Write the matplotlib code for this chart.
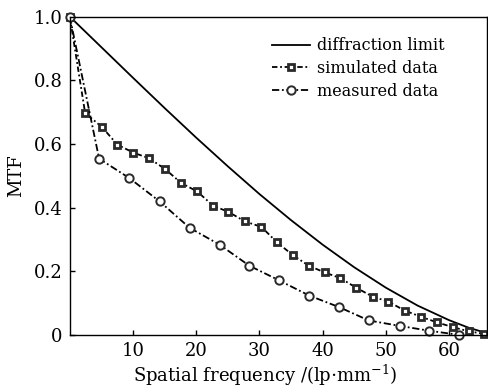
import matplotlib
matplotlib.use('Agg')
import matplotlib.pyplot as plt

# diffraction limit
freq_dl = [0, 5, 10, 15, 20, 25, 30, 35, 40, 45, 50, 55, 60, 63, 66]
mtf_dl = [1.0, 0.904, 0.808, 0.713, 0.620, 0.530, 0.443, 0.361, 0.284, 0.213,
          0.149, 0.093, 0.047, 0.024, 0.006]

# simulated data (squares)
freq_sim = [0, 2.43, 5.06, 7.53, 10.06, 12.58, 15.1, 17.6, 20.15, 22.7, 25.1, 27.7,
            30.3, 32.8, 35.3, 37.8, 40.3, 42.8, 45.3, 47.9, 50.4, 53.0, 55.5, 58.1,
            60.6, 63.1, 65.6]
mtf_sim = [1.0, 0.697, 0.654, 0.598, 0.573, 0.555, 0.521, 0.478, 0.451, 0.406, 0.387,
           0.357, 0.340, 0.291, 0.251, 0.218, 0.197, 0.179, 0.149, 0.121, 0.105, 0.077,
           0.058, 0.040, 0.025, 0.012, 0.004]

# measured data (circles)
freq_meas = [0, 4.64, 9.43, 14.2, 18.95, 23.7, 28.4, 33.1, 37.9, 42.6, 47.3, 52.2,
             56.8, 61.5]
mtf_meas = [1.0, 0.554, 0.493, 0.420, 0.337, 0.284, 0.218, 0.172, 0.124, 0.088,
            0.046, 0.029, 0.014, 0.001]

plt.rcParams['font.family'] = 'DejaVu Serif'
plt.rcParams['mathtext.fontset'] = 'dejavuserif'

fig = plt.figure(figsize=(4.88, 3.87), dpi=100)
ax = fig.add_axes([0.143, 0.134, 0.855, 0.823])

ax.plot(freq_dl, mtf_dl, color='black', lw=1.3, label='diffraction limit')
ax.plot(freq_sim, mtf_sim, color='black', lw=1.3, dashes=(3, 1.5, 1, 1.5),
        marker='s', ms=5, mfc='white', mec='#2a2a2a', mew=2,
        label='simulated data', clip_on=False)
ax.plot(freq_meas, mtf_meas, color='black', lw=1.3, dashes=(4, 1.5, 1, 1.5),
        marker='o', ms=6, mfc='white', mec='#2a2a2a', mew=1.4,
        label='measured data', clip_on=False)

ax.set_xlim(0, 66)
ax.set_ylim(0, 1.0)
ax.set_xticks([10, 20, 30, 40, 50, 60])
ax.set_yticks([0, 0.2, 0.4, 0.6, 0.8, 1.0])
ax.set_yticklabels(['0', '0.2', '0.4', '0.6', '0.8', '1.0'])
ax.tick_params(direction='in', length=3.5, width=1, labelsize=13, pad=5)

for s in ax.spines.values():
    s.set_linewidth(1)

ax.set_xlabel(r'Spatial frequency /(lp$\cdot$mm$^{-1}$)', fontsize=13, labelpad=2)
ax.xaxis.label.set_x(0.468)
ax.set_ylabel('MTF', fontsize=13, labelpad=6)

ax.legend(loc='upper left', bbox_to_anchor=(0.485, 0.935), frameon=False,
          fontsize=11.5, handlelength=2.4, handletextpad=0.4, labelspacing=0.35,
          borderpad=0, borderaxespad=0)

fig.savefig('out.png', dpi=100)
